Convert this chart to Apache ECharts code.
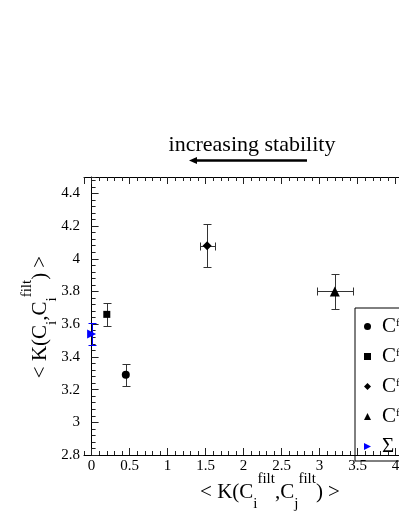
<!DOCTYPE html>
<html>
<head>
<meta charset="utf-8">
<script src="https://cdn.jsdelivr.net/npm/echarts@6/dist/echarts.min.js"></script>
<style>
html, body { margin: 0; padding: 0; background: #fff; }
#chart { width: 399px; height: 516px; }
</style>
</head>
<body>
<div id="chart"></div>
<script>
// data
const seriesNames = ['C1', 'C2', 'C3', 'C4', 'Σ']
const xValues = [0.45, 0.2, 1.52, 3.2, 0.0]
const yValues = [3.29, 3.66, 4.08, 3.80, 3.54]
const xErrors = [0, 0, 0.1, 0.24, 0]
const yErrors = [0.065, 0.07, 0.13, 0.105, 0.068]

// axis ranges
const xRange = [-0.1, 4.8]
const yRange = [2.8, 4.5]

// marker styles
const symbols = ['circle', 'rect', 'diamond', 'triangle', 'triangle']
const legendIcons = ['circle', 'rect', 'diamond', 'triangle', 'path://M0,0L10,5L0,10Z']
const symbolSizes = [8, 7, 9, 10, 9]
const symbolRotates = [0, 0, 0, 0, -90]
const markColors = ['#000', '#000', '#000', '#000', '#0000ff']
const errColors = ['#333', '#333', '#333', '#333', '#0000ff']

const font = 'Liberation Serif'
const chart = echarts.init(document.getElementById('chart'))

// ve thanh sai so
const renderErrorBar = (params, api) => {
  const x = api.value(0)
  const y = api.value(1)
  const ex = api.value(2)
  const ey = api.value(3)
  const color = errColors[params.dataIndex]
  const cap = 4
  const r = v => Math.round(v) + 0.5
  const children = []
  const line = (x1, y1, x2, y2) => children.push({
    type: 'line',
    shape: { x1: r(x1), y1: r(y1), x2: r(x2), y2: r(y2) },
    style: { stroke: color, lineWidth: 1 }
  })
  if (ey > 0) {
    const top = api.coord([x, y + ey])
    const bot = api.coord([x, y - ey])
    line(top[0], top[1], bot[0], bot[1])
    line(top[0] - cap, top[1], top[0] + cap, top[1])
    line(bot[0] - cap, bot[1], bot[0] + cap, bot[1])
  }
  if (ex > 0) {
    const lft = api.coord([x - ex, y])
    const rgt = api.coord([x + ex, y])
    line(lft[0], lft[1], rgt[0], rgt[1])
    line(lft[0], lft[1] - cap, lft[0], lft[1] + cap)
    line(rgt[0], rgt[1] - cap, rgt[0], rgt[1] + cap)
  }
  return { type: 'group', children }
}

const majorTick = { show: true, inside: true, length: 7, lineStyle: { color: '#222', width: 1 } }
const minorTick = { show: true, inside: true, length: 4, lineStyle: { color: '#222', width: 1 } }
const axisLine = { show: true, lineStyle: { color: '#000', width: 1 } }
const tickLabel = { fontFamily: font, fontSize: 15, color: '#000' }

const xAxisBase = { type: 'value', min: xRange[0], max: xRange[1], splitLine: { show: false } }
const yAxisBase = { type: 'value', min: yRange[0], max: yRange[1], splitLine: { show: false } }

const scatterSeries = seriesNames.map((name, i) => ({
  name,
  type: 'scatter',
  z: 5,
  symbol: symbols[i],
  symbolSize: symbolSizes[i],
  symbolRotate: symbolRotates[i],
  itemStyle: { color: markColors[i], opacity: 1 },
  emphasis: { disabled: true },
  data: [[xValues[i], yValues[i]]]
}))

const errorData = xValues.map((x, i) => [x, yValues[i], xErrors[i], yErrors[i]])

const option = {
  animation: false,
  backgroundColor: '#fff',
  grid: {
    left: 84,
    top: 177,
    width: 372.4,
    height: 278,
    outerBoundsMode: 'none',
    containLabel: false
  },
  legend: {
    data: seriesNames.map((name, i) => ({ name, icon: legendIcons[i] })),
    orient: 'vertical',
    left: 355,
    top: 308,
    padding: [8, 40, 4, 9],
    itemGap: 9,
    itemWidth: 7,
    itemHeight: 7,
    selectedMode: false,
    borderColor: '#000',
    borderWidth: 1,
    borderRadius: 0,
    formatter: name => name === 'Σ' ? '{m|Σ}' : '{m|C}{s|filt}{b|' + name.slice(1) + '}',
    textStyle: {
      fontFamily: font,
      color: '#000',
      rich: {
        m: { fontFamily: font, fontSize: 21, lineHeight: 18, color: '#000', padding: [0, 0, 0, 6] },
        s: { fontFamily: font, fontSize: 11, lineHeight: 8, verticalAlign: 'top', color: '#000' },
        b: { fontFamily: font, fontSize: 11, lineHeight: 8, verticalAlign: 'bottom', color: '#000' }
      }
    }
  },
  xAxis: [
    {
      ...xAxisBase,
      position: 'bottom',
      splitNumber: 10,
      axisLine,
      axisTick: majorTick,
      axisLabel: { ...tickLabel, margin: 4, showMinLabel: false, showMaxLabel: false }
    },
    {
      ...xAxisBase,
      position: 'bottom',
      interval: 0.1,
      axisLine: { show: false },
      axisTick: minorTick,
      axisLabel: { show: false }
    },
    {
      ...xAxisBase,
      position: 'top',
      splitNumber: 10,
      axisLine,
      axisTick: majorTick,
      axisLabel: { show: false }
    },
    {
      ...xAxisBase,
      position: 'top',
      interval: 0.1,
      axisLine: { show: false },
      axisTick: minorTick,
      axisLabel: { show: false }
    }
  ],
  yAxis: [
    {
      ...yAxisBase,
      position: 'left',
      interval: 0.2,
      axisLine,
      axisTick: majorTick,
      axisLabel: { ...tickLabel, margin: 4, showMaxLabel: false }
    },
    {
      ...yAxisBase,
      position: 'left',
      interval: 0.04,
      axisLine: { show: false },
      axisTick: minorTick,
      axisLabel: { show: false }
    }
  ],
  series: [
    {
      name: 'errors',
      type: 'custom',
      z: 2,
      silent: true,
      renderItem: renderErrorBar,
      encode: { x: 0, y: 1 },
      data: errorData
    },
    ...scatterSeries
  ],
  graphic: [
    {
      type: 'text',
      x: 252,
      y: 145,
      style: {
        text: 'increasing stability',
        fontFamily: font,
        fontSize: 22,
        fill: '#000',
        align: 'center',
        verticalAlign: 'middle'
      }
    },
    {
      type: 'line',
      shape: { x1: 307, y1: 160.5, x2: 195, y2: 160.5 },
      style: { stroke: '#000', lineWidth: 2.5 }
    },
    {
      type: 'polygon',
      shape: { points: [[189, 160.5], [197, 157], [197, 164]] },
      style: { fill: '#000' }
    },
    {
      // ten truc x
      type: 'text',
      x: 270,
      y: 492,
      style: {
        text: '{m|< K(C}{b|i}{s|filt}{m|,C}{b|j}{s|filt}{m|) >}',
        align: 'center',
        verticalAlign: 'middle',
        fill: '#000',
        rich: {
          m: { fontFamily: font, fontSize: 21, lineHeight: 40 },
          s: { fontFamily: font, fontSize: 15, lineHeight: 14, verticalAlign: 'top' },
          b: { fontFamily: font, fontSize: 15, lineHeight: 20, verticalAlign: 'bottom' }
        }
      }
    },
    {
      // ten truc y
      type: 'text',
      x: 40,
      y: 317,
      rotation: Math.PI / 2,
      style: {
        text: '{m|< K(C}{b|i}{m|,C}{b|i}{s|filt}{m|) >}',
        align: 'center',
        verticalAlign: 'middle',
        fill: '#000',
        rich: {
          m: { fontFamily: font, fontSize: 21, lineHeight: 40 },
          s: { fontFamily: font, fontSize: 15, lineHeight: 14, verticalAlign: 'top' },
          b: { fontFamily: font, fontSize: 15, lineHeight: 20, verticalAlign: 'bottom' }
        }
      }
    }
  ]
}

chart.setOption(option)
</script>
</body>
</html>
